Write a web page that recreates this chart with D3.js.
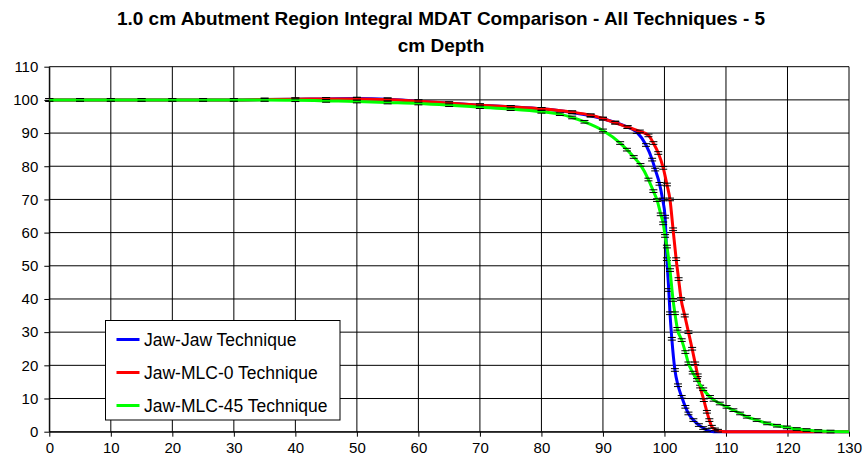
<!DOCTYPE html>
<html><head><meta charset="utf-8">
<script src="https://cdn.jsdelivr.net/npm/d3@7"></script>
<style>
body{margin:0;background:#fff;}
svg{display:block;font-family:"Liberation Sans",Arial,sans-serif;}
</style></head>
<body><svg id="c" width="864" height="462"></svg>
<script>
const titleLines = ["1.0 cm Abutment Region Integral MDAT Comparison - All Techniques - 5", "cm Depth"];
const xTicks = [0,10,20,30,40,50,60,70,80,90,100,110,120,130];
const yTicks = [0,10,20,30,40,50,60,70,80,90,100,110];
const seriesNames = ["Jaw-Jaw Technique","Jaw-MLC-0 Technique","Jaw-MLC-45 Technique"];
const seriesColors = ["#0000ff","#ff0000","#00ff00"];

const jawJawX = [0,5,10,15,20,25,30,35,40,45,50,55,60,65,70,75,80,85,88,90,92,94,95.5,97,98,98.5,99.2,99.7,100.1,100.4,100.7,100.9,101.2,101.7,102.2,102.8,103.4,103.9,104.7,105.6,106.3,106.9,108,110,115,120,125,130];
const jawJawY = [100,100,100,100,100,100,100,100.1,100.2,100.3,100.4,100.2,99.6,99,98.4,97.9,97.3,96.2,95.2,94.3,93.2,91.8,90.3,86.4,82,79,74.7,70,64.8,52,42.7,35.7,28,18.6,14,10.5,7.5,5.5,3.5,2,1.1,0.5,0,0,0,0,0,0];

const jawMlc0X = [0,5,10,15,20,25,30,35,40,45,50,55,60,65,70,75,80,85,88,90,92,94,96,97.4,98.2,99,99.8,100.4,100.9,101.4,101.9,102.3,102.7,103.3,103.9,104.5,105,105.4,105.8,106.4,106.9,107.3,107.7,108.2,108.7,110,115,120,125,130];
const jawMlc0Y = [100,100,100,100,100,100,100,100.1,100.2,100.3,100.3,100.1,99.6,99,98.4,97.9,97.3,96.3,95.4,94.4,93.1,91.8,90.5,89.3,87,84,79.5,74.5,70,61,52,46,40,35,30,25,20.6,17,13.6,9.5,6,3.5,1.5,0.7,0.3,0,0,0,0,0];

const jawMlc45X = [0,5,10,15,20,25,30,35,40,45,50,55,60,65,70,75,80,83,85,87,90,92.8,93.9,95,96.1,97.4,98.2,98.8,99.4,99.8,100.1,100.4,100.9,101.4,101.7,102.1,102.8,103.4,103.9,104.6,105.3,106.3,107.4,108,109,110.1,111.2,112.3,113.4,115,116.7,118.3,119.9,121.5,123.1,125,127,130];
const jawMlc45Y = [100,100,100,100,100,100,100,100,99.9,99.7,99.5,99.2,98.9,98.4,97.8,97.2,96.4,95.7,94.7,93.4,90.8,87,85,82.8,80.4,76,72.5,69.8,65.5,62.8,59,55.8,48.7,39.7,35.7,31,27.6,24,20.6,17.8,15.6,12.8,10.5,9.6,8.5,7.5,6.5,5.5,4.5,3.5,2.5,1.8,1.3,0.8,0.5,0.2,0.05,0];

const seriesX = [jawJawX, jawMlc0X, jawMlc45X];
const seriesY = [jawJawY, jawMlc0Y, jawMlc45Y];

const svg = d3.select("#c");
const pLeft = 49.3, pRight = 849, pTop = 66.7, pBottom = 431.7;
const x = d3.scaleLinear().domain([0,130]).range([pLeft,pRight]);
const y = d3.scaleLinear().domain([0,110]).range([pBottom,pTop]);

// title
const title = svg.append("g");
titleLines.forEach((t,i)=>{
  title.append("text").attr("x",441).attr("y",25+i*27)
    .attr("text-anchor","middle").attr("font-weight","bold").attr("font-size",19)
    .attr("fill","#000").text(t);
});

// grid
const grid = svg.append("g").attr("stroke","#000").attr("stroke-width",1);
xTicks.forEach(t=>{ grid.append("line").attr("x1",x(t)).attr("x2",x(t)).attr("y1",pTop).attr("y2",pBottom); });
yTicks.forEach(t=>{ grid.append("line").attr("x1",pLeft).attr("x2",pRight).attr("y1",y(t)).attr("y2",y(t)); });

// axes
const xAxis = svg.append("g").attr("transform",`translate(0,${pBottom})`)
  .call(d3.axisBottom(x).tickValues(xTicks).tickSize(5).tickPadding(6).tickSizeOuter(0));
const yAxis = svg.append("g").attr("transform",`translate(${pLeft},0)`)
  .call(d3.axisLeft(y).tickValues(yTicks).tickSize(5).tickPadding(6).tickSizeOuter(0));
[xAxis,yAxis].forEach(a=>{
  a.selectAll("text").attr("font-size",15).attr("font-family","'Liberation Sans',Arial,sans-serif").attr("fill","#000");
  a.selectAll("line,path").attr("stroke","#000");
});

// series
const line = d3.line().curve(d3.curveMonotoneX);
const plot = svg.append("g");
seriesX.forEach((xs,i)=>{
  const pts = xs.map((v,j)=>[x(v), y(seriesY[i][j])]);
  plot.append("path").attr("d",line(pts)).attr("fill","none")
    .attr("stroke",seriesColors[i]).attr("stroke-width",3).attr("stroke-linejoin","round");
  const eb = plot.append("g").attr("stroke","#000").attr("stroke-width",1);
  xs.forEach((v,j)=>{
    const yv = seriesY[i][j];
    if (yv <= 0.01) return;
    [yv-0.4, yv+0.4].forEach(e=>{
      eb.append("line").attr("x1",x(v)-4).attr("x2",x(v)+4).attr("y1",y(e)).attr("y2",y(e));
    });
  });
});

// legend
const lg = svg.append("g");
lg.append("rect").attr("x",105.5).attr("y",320.5).attr("width",234.5).attr("height",99.5)
  .attr("fill","#fff").attr("stroke","#000").attr("stroke-width",1);
seriesNames.forEach((n,i)=>{
  const yy = 339.5 + i*33;
  lg.append("line").attr("x1",116.5).attr("x2",139.5).attr("y1",yy).attr("y2",yy)
    .attr("stroke",seriesColors[i]).attr("stroke-width",3);
  lg.append("text").attr("x",144).attr("y",yy+6).attr("font-size",17.5).attr("fill","#000").text(n);
});
</script></body></html>
